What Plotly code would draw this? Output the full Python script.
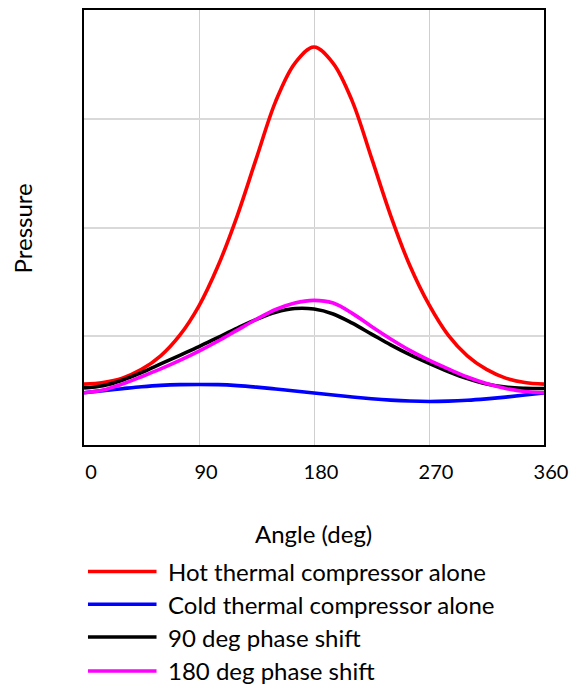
import plotly.graph_objects as go

angle = [0, 15, 30, 45, 60, 75, 90, 105, 120, 135, 150, 165, 180,
         195, 210, 225, 240, 255, 270, 285, 300, 315, 330, 345, 360]

hot = [0.56, 0.575, 0.615, 0.695, 0.82, 1.01, 1.28, 1.65, 2.11, 2.64, 3.16, 3.51, 3.66,
       3.51, 3.16, 2.64, 2.11, 1.65, 1.29, 1.01, 0.82, 0.695, 0.615, 0.575, 0.56]

cold = [0.48, 0.50, 0.518, 0.535, 0.548, 0.555, 0.557, 0.555, 0.546, 0.532, 0.515, 0.497, 0.478,
        0.46, 0.442, 0.426, 0.413, 0.404, 0.40, 0.403, 0.411, 0.424, 0.44, 0.459, 0.478]

shift90 = [0.525, 0.545, 0.595, 0.665, 0.745, 0.825, 0.905, 0.99, 1.075, 1.155, 1.22, 1.255, 1.25,
           1.205, 1.12, 1.02, 0.92, 0.83, 0.75, 0.675, 0.61, 0.56, 0.532, 0.522, 0.52]

shift180 = [0.48, 0.505, 0.56, 0.628, 0.70, 0.778, 0.863, 0.956, 1.056, 1.156, 1.246, 1.306, 1.33,
            1.305, 1.21, 1.09, 0.975, 0.87, 0.78, 0.70, 0.625, 0.565, 0.52, 0.492, 0.48]

names = ["Hot thermal compressor alone", "Cold thermal compressor alone",
         "90 deg phase shift", "180 deg phase shift"]
colors = ["#ff0000", "#0000ff", "#000000", "#ff00ff"]
series = [hot, cold, shift90, shift180]

x_ticks = [0, 90, 180, 270, 360]
y_grid = [0, 1, 2, 3, 4]

W, H = 576, 686
L, R, T, B = 84, 547, 8, 445
FONT = "Lato"


def px_x(p):
    return (p - L) / (R - L)


def px_y(p):
    return (B - p) / (B - T)


fig = go.Figure()
for name, col, ys in zip(names, colors, series):
    fig.add_trace(go.Scatter(x=angle, y=ys, mode="lines", name=name,
                             line=dict(color=col, width=3.6, shape="spline", smoothing=1.0),
                             showlegend=False))

# manual legend
leg_y = [572, 605, 638, 672]
shapes = []
annotations = []
for name, col, yy in zip(names, colors, leg_y):
    shapes.append(dict(type="line", xref="paper", yref="paper",
                       x0=px_x(88), x1=px_x(157), y0=px_y(yy), y1=px_y(yy),
                       line=dict(color=col, width=3.5)))
    annotations.append(dict(xref="paper", yref="paper", x=px_x(167), y=px_y(yy),
                            text=name, showarrow=False, xanchor="left", yanchor="middle",
                            font=dict(family=FONT, size=24, color="#000")))

annotations.append(dict(xref="paper", yref="paper", x=px_x(315), y=px_y(534),
                        text="Angle (deg)", showarrow=False, xanchor="center", yanchor="middle",
                        font=dict(family=FONT, size=24, color="#000")))
annotations.append(dict(xref="paper", yref="paper", x=px_x(23), y=px_y(227),
                        text="Pressure", showarrow=False, textangle=-90,
                        xanchor="center", yanchor="middle",
                        font=dict(family=FONT, size=24, color="#000")))

fig.update_layout(
    width=W, height=H,
    margin=dict(l=L, r=W - R, t=T, b=H - B),
    paper_bgcolor="white", plot_bgcolor="white",
    font=dict(family=FONT, size=20, color="#000"),
    shapes=shapes, annotations=annotations,
    showlegend=False,
)
fig.update_xaxes(range=[0, 360], tickvals=x_ticks, ticktext=[str(v) for v in x_ticks],
                 showgrid=True, gridcolor="#cfcfcf", gridwidth=1,
                 showline=True, linecolor="#000", linewidth=1.5, mirror=True,
                 ticks="", ticklabelshift=7, ticklabelstandoff=8, zeroline=False,
                 tickfont=dict(family=FONT, size=20, color="#000"))
fig.update_yaxes(range=[0, 4], tickvals=y_grid, showticklabels=False,
                 showgrid=True, gridcolor="#d9d9d9", gridwidth=1.5,
                 showline=True, linecolor="#000", linewidth=1.5, mirror=True,
                 ticks="", zeroline=False)

fig.write_html("out.html")
